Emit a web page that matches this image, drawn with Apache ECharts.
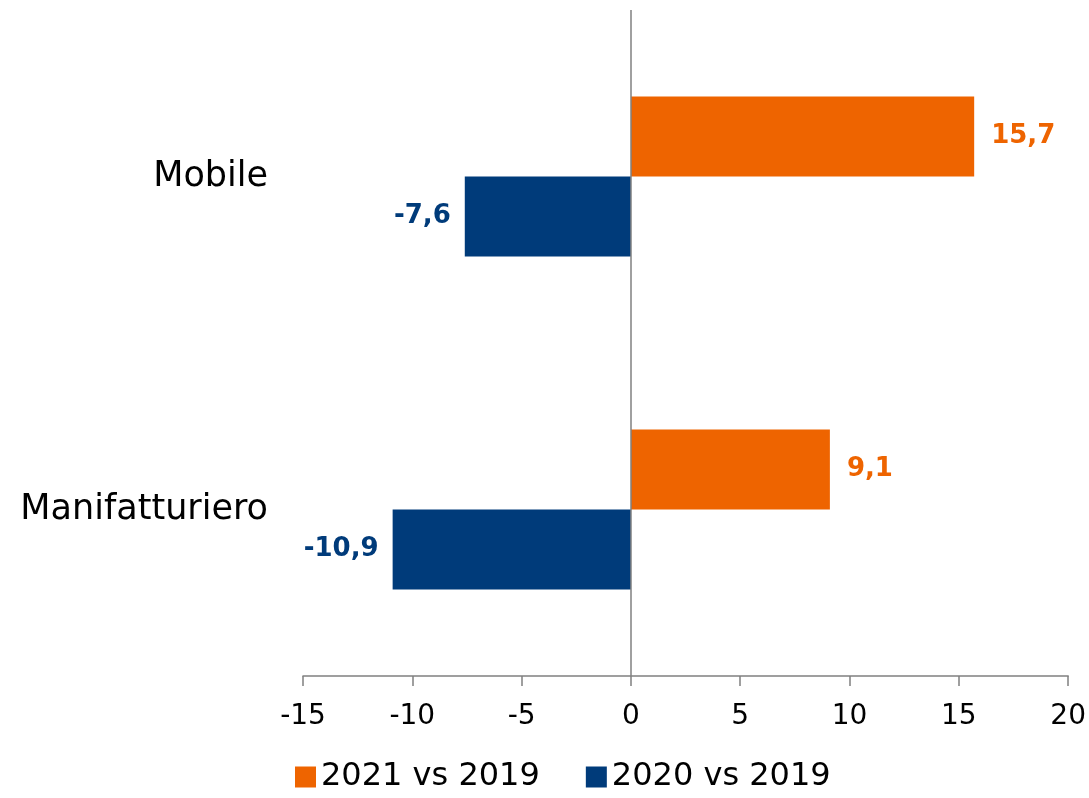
<!DOCTYPE html>
<html>
<head>
<meta charset="utf-8">
<script src="https://cdn.jsdelivr.net/npm/echarts@6/dist/echarts.min.js"></script>
<style>
  html, body { margin: 0; padding: 0; background: #fff; }
  #chart { width: 1089px; height: 798px; }
</style>
</head>
<body>
<div id="chart"></div>
<script>
// categories, bottom to top (ECharts draws first category at the bottom)
var categories = ['Manifatturiero', 'Mobile']
var values2021 = [9.1, 15.7]
var values2020 = [-10.9, -7.6]
var seriesNames = ['2021 vs 2019', '2020 vs 2019']

var FONT = 'DejaVu Sans'
var chart = echarts.init(document.getElementById('chart'))

function fmt(p) {
  return String(p.value).replace('.', ',')
}

chart.setOption({
  backgroundColor: '#fff',
  animation: false,
  textStyle: { fontFamily: FONT },
  grid: { left: 303, right: 20, top: 10, bottom: 122 },
  legend: {
    data: seriesNames,
    bottom: 0,
    left: 290,
    itemWidth: 21,
    itemHeight: 21,
    itemGap: 46,
    icon: 'rect',
    textStyle: { fontSize: 32, color: '#000', fontFamily: FONT }
  },
  xAxis: {
    type: 'value',
    min: -15,
    max: 20,
    interval: 5,
    axisLine: { show: true, onZero: false, lineStyle: { color: '#808080', width: 1.5 } },
    axisTick: { show: true, length: 10, lineStyle: { color: '#808080', width: 1.5 } },
    axisLabel: { fontSize: 28, color: '#000', margin: 27 },
    splitLine: { show: false }
  },
  yAxis: {
    type: 'category',
    data: categories,
    axisLine: { show: false },
    axisTick: { show: false },
    axisLabel: { fontSize: 35, color: '#000', margin: 35 }
  },
  series: [
    {
      name: seriesNames[0],
      type: 'bar',
      data: values2021,
      barWidth: 80,
      barGap: '0%',
      itemStyle: { color: '#EE6400' },
      label: {
        show: true,
        position: 'right',
        distance: 17,
        formatter: fmt,
        fontSize: 26,
        fontWeight: 'bold',
        color: '#EE6400'
      },
      markLine: {
        silent: true,
        symbol: 'none',
        label: { show: false },
        lineStyle: { color: '#808080', width: 1.5, type: 'solid' },
        data: [{ xAxis: 0 }]
      }
    },
    {
      name: seriesNames[1],
      type: 'bar',
      data: values2020,
      barWidth: 80,
      barGap: '0%',
      itemStyle: { color: '#003B7A' },
      label: {
        show: true,
        position: 'left',
        distance: 14,
        formatter: fmt,
        fontSize: 26,
        fontWeight: 'bold',
        color: '#003B7A'
      }
    }
  ]
})
</script>
</body>
</html>
